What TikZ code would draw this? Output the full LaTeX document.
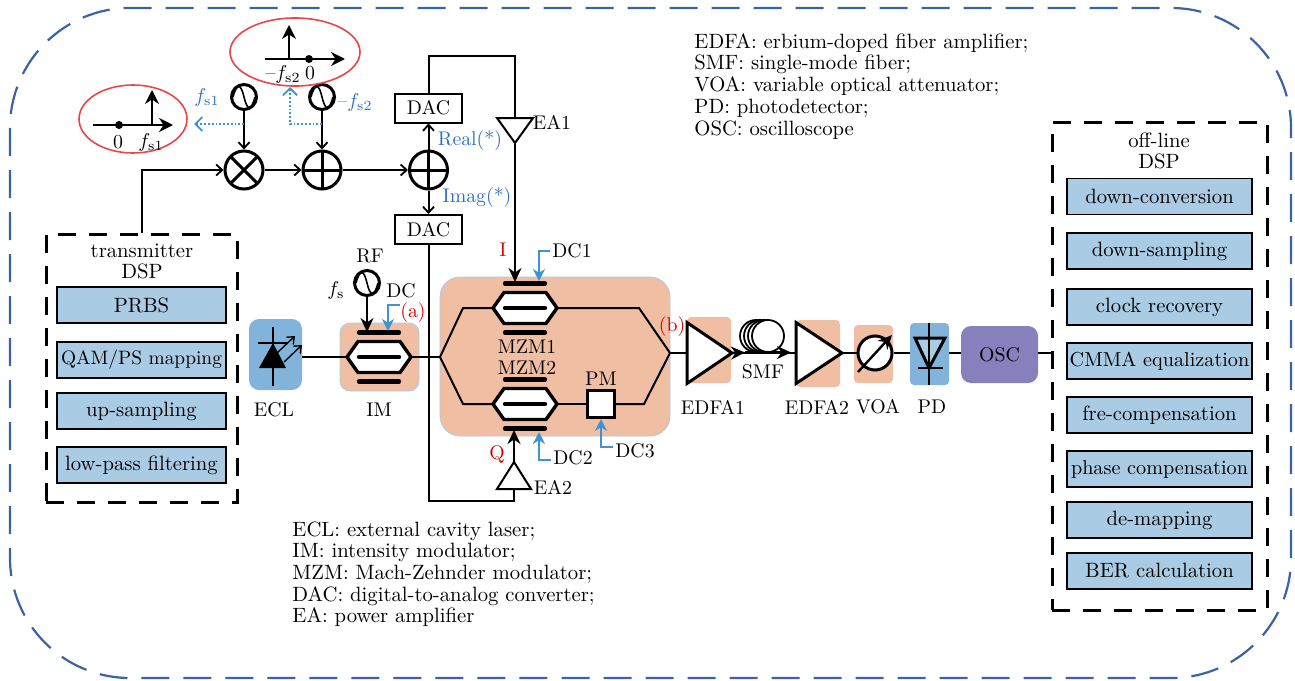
\documentclass[tikz,border=0pt]{standalone}
\usetikzlibrary{positioning, arrows.meta, shapes.geometric}

\definecolor{peachfill}{HTML}{F0BFA3}
\definecolor{skyfill}{HTML}{A9CBE4}
\definecolor{lasefill}{HTML}{82B3DA}
\definecolor{oscfill}{HTML}{8680BD}
\definecolor{ringred}{HTML}{E8474A}
\definecolor{labelblue}{HTML}{2F6FBF}
\definecolor{dcblue}{HTML}{3F93D0}
\definecolor{outerblue}{HTML}{3B62A5}

\begin{document}
\begin{tikzpicture}[
  x=0.5pt, y=-0.5pt,
  font=\fontsize{9.9}{11}\selectfont,
  wire/.style={line width=1pt},
  heavy/.style={line width=1.5pt},
  tip/.style={-{Straight Barb[length=3pt,width=5.5pt,line width=0.9pt]}},
  solidtip/.style={-{Stealth[length=7pt,width=6.5pt]}},
  dcline/.style={line width=1pt, draw=dcblue, -{Stealth[length=6pt,width=6pt]}},
  probe/.style={line width=0.9pt, draw=dcblue, densely dotted, -{Straight Barb[length=3.5pt,width=7pt,line width=0.9pt]}},
  ring/.style={ellipse, draw=ringred, line width=0.8pt, inner sep=0pt},
  axisline/.style={line width=1pt, -{Stealth[length=7pt,width=7pt]}},
  axisdot/.style={circle, fill=black, inner sep=0pt, minimum size=4pt},
  dspframe/.style={draw, line width=1.5pt, dash pattern=on 9pt off 6.5pt, inner sep=0pt},
  dspblock/.style={rectangle, draw, line width=0.9pt, fill=skyfill, inner sep=0pt, font=\fontsize{10.35}{11}\selectfont},
  dacbox/.style={rectangle, draw, line width=1pt, fill=white, inner sep=0pt, minimum width=33.5pt, minimum height=14.5pt},
  panel/.style={rectangle, rounded corners=5pt, inner sep=0pt, outer sep=0pt},
  ampnode/.style={isosceles triangle, isosceles triangle stretches, draw, heavy, fill=white, inner sep=0pt, outer sep=0pt},
  oscnode/.style={circle, draw, heavy, fill=white, minimum size=12.5pt, inner sep=0pt,
    path picture={\draw[line width=0.8pt, shift={(path picture bounding box.center)}] (-11,0)
      .. controls (-7,-15) and (-3,-13) .. (0,0)
      .. controls (3,13) and (7,15) .. (11,0);}},
  mixnode/.style={circle, draw, heavy, fill=white, minimum size=19pt, inner sep=0pt,
    path picture={\draw[heavy] (path picture bounding box.north east) -- (path picture bounding box.south west);
      \draw[heavy] (path picture bounding box.north west) -- (path picture bounding box.south east);}},
  sumnode/.style={circle, draw, heavy, fill=white, minimum size=19pt, inner sep=0pt,
    path picture={\draw[heavy] (path picture bounding box.north) -- (path picture bounding box.south);
      \draw[heavy] (path picture bounding box.west) -- (path picture bounding box.east);}},
  legend/.style={align=left, anchor=north west, inner sep=0pt, font=\fontsize{10.35}{10.85}\selectfont},
  mzmcell/.pic={
    \draw[line width=1.7pt, fill=white] (-32,0) -- (-21,-15.5) -- (21,-15.5) -- (32,0) -- (21,15.5) -- (-21,15.5) -- cycle;
    \draw[line width=2.2pt, line cap=round] (-20,0) -- (20,0);
    \draw[line width=2.2pt, line cap=round] (-20,-24.5) -- (20,-24.5);
    \draw[line width=2.2pt, line cap=round] (-20,24.5) -- (20,24.5);
    \coordinate (-in) at (-32,0);
    \coordinate (-out) at (32,0);
  }
]
\useasboundingbox (0,0) rectangle (1295,680);

% -------------------------
% OUTER FRAME
% -------------------------
\draw[outerblue, line width=1.1pt, dash pattern=on 14pt off 7pt, rounded corners=60pt]
  (10,8) rectangle (1291,678);

% -------------------------
% PANELS (behind the optics)
% -------------------------
\node[panel, fill=lasefill, minimum width=26.5pt, minimum height=35.5pt] (eclpanel) at (275.5,354.5) {};
\node[panel, fill=peachfill, draw=skyfill, minimum width=39.5pt, minimum height=34pt] (impanel) at (379.5,357) {};
\node[panel, fill=peachfill, draw=skyfill, rounded corners=10pt, minimum width=115pt, minimum height=79.5pt] (iqpanel) at (555,356.5) {};
\node[panel, fill=peachfill, rounded corners=2pt, minimum width=22pt, minimum height=33pt] (edfaApanel) at (709,350) {};
\node[panel, fill=peachfill, rounded corners=2pt, minimum width=22pt, minimum height=33.5pt] (edfaBpanel) at (818,353.5) {};
\node[panel, fill=peachfill, rounded corners=2pt, minimum width=19.5pt, minimum height=29pt] (voapanel) at (873.5,354) {};
\node[panel, fill=lasefill, rounded corners=2pt, minimum width=19.5pt, minimum height=31pt] (pdpanel) at (929.5,354) {};

% -------------------------
% DSP BLOCKS
% -------------------------
\node[dspframe, minimum width=95.5pt, minimum height=134pt] (txbox) at (141.5,368) {};
\node[align=center, inner sep=0pt, font=\fontsize{10.35}{10.5}\selectfont] (txtitle) at (142,261) {transmitter\\DSP};
\node[dspblock, minimum width=84.5pt, minimum height=18pt] (prbs) at (141.5,305) {PRBS};
\node[dspblock, minimum width=84.5pt, minimum height=18pt, font=\fontsize{9.7}{11}\selectfont] (qam) at (141.5,360) {QAM/PS mapping};
\node[dspblock, minimum width=84.5pt, minimum height=18pt] (upsamp) at (141.5,411) {up-sampling};
\node[dspblock, minimum width=84.5pt, minimum height=18pt] (lowpass) at (141.5,465) {low-pass filtering};

\node[dspframe, minimum width=107.5pt, minimum height=244pt] (rxbox) at (1159.5,366) {};
\node[align=center, inner sep=0pt, font=\fontsize{10.35}{10.5}\selectfont] (rxtitle) at (1159,151) {off-line\\DSP};
\node[dspblock, minimum width=92.5pt, minimum height=18pt] (downconv) at (1159.5,196.5) {down-conversion};
\node[dspblock, minimum width=92.5pt, minimum height=18pt] (downsamp) at (1159.5,251) {down-sampling};
\node[dspblock, minimum width=92.5pt, minimum height=18pt] (clock) at (1159.5,307) {clock recovery};
\node[dspblock, minimum width=92.5pt, minimum height=18pt, font=\fontsize{10.1}{11}\selectfont] (cmma) at (1159.5,361) {CMMA equalization};
\node[dspblock, minimum width=92.5pt, minimum height=18pt] (frecomp) at (1159.5,415) {fre-compensation};
\node[dspblock, minimum width=92.5pt, minimum height=18pt, font=\fontsize{10.1}{11}\selectfont] (phasecomp) at (1159.5,469) {phase compensation};
\node[dspblock, minimum width=92.5pt, minimum height=18pt] (demap) at (1159.5,520) {de-mapping};
\node[dspblock, minimum width=92.5pt, minimum height=18pt] (ber) at (1159.5,571) {BER calculation};

% -------------------------
% UP-CONVERSION CHAIN
% -------------------------
\node[mixnode] (mix) at (244,170) {};
\node[sumnode] (sumA) at (322,170) {};
\node[sumnode] (sumB) at (428.5,170) {};
\node[oscnode] (oscA) at (244,97) {};
\node[oscnode] (oscB) at (322,97) {};
\node[dacbox] (dacA) at (428.5,108) {DAC};
\node[dacbox] (dacB) at (428.5,229.5) {DAC};

\draw[wire, tip] (txbox.north) |- (mix);
\draw[wire, tip] (mix) -- (sumA);
\draw[wire, tip] (sumA) -- (sumB);
\draw[wire, tip] (oscA) -- (mix);
\draw[wire, tip] (oscB) -- (sumA);
\draw[wire, tip] (sumB) -- (dacA);
\draw[wire, tip] (sumB) -- (dacB);

\node[text=labelblue, inner sep=0pt] (reallab) at (470,141) {Real(*)};
\node[text=labelblue, inner sep=0pt] (imaglab) at (477,198) {Imag(*)};
\node[text=labelblue, inner sep=0pt] (fsAlab) at (207,97) {$f_{\mathrm{s1}}$};
\node[text=labelblue, inner sep=0pt] (fsBlab) at (355,102) {--$f_{\mathrm{s2}}$};

% spectra
\node[ring, minimum width=54pt, minimum height=34pt] (ringA) at (133,119) {};
\node[ring, minimum width=65pt, minimum height=34pt] (ringB) at (295,52) {};
\node[axisdot] (zeroA) at (119,125) {};
\node[axisdot] (zeroB) at (309,59) {};
\coordinate (axisAl) at (93,125);
\coordinate (axisAr) at (173,125);
\coordinate (axisBl) at (265,59);
\coordinate (axisBr) at (345,59);
\draw[axisline] (axisAl) -- (axisAr);
\draw[axisline] (axisBl) -- (axisBr);
\draw[axisline] (152,125) -- (152,90);
\draw[axisline] (289,59) -- (289,25);
\node[inner sep=0pt] (zeroAlab) at (118,142) {0};
\node[inner sep=0pt] (fsAtick) at (151,142) {$f_{\mathrm{s1}}$};
\node[inner sep=0pt] (fsBtick) at (283,74) {--$f_{\mathrm{s2}}$};
\node[inner sep=0pt] (zeroBlab) at (310,73) {0};

% dotted taps
\coordinate (tapA) at (244,124);
\coordinate (tapB) at (322,124);
\coordinate (tapAend) at (194,124);
\coordinate (tapBend) at (290,87);
\draw[probe] (tapA) -- (tapAend);
\draw[probe] (tapB) -| (tapBend);

% -------------------------
% OPTICAL PATH
% -------------------------
% laser
\draw[wire, line width=1.2pt] (273,327) -- (273,386);
\draw[wire, line width=1.2pt] (258,343) -- (288,343);
\fill (273,343) -- (286,368) -- (259,368) -- cycle;
\draw[line width=0.7pt, -{Straight Barb[length=3pt,width=5pt]}] (277,353) -- (295,336);
\draw[line width=0.7pt, -{Straight Barb[length=3pt,width=5pt]}] (284,362) -- (302,345);
\node[inner sep=0pt] (ecllab) at (274,410) {ECL};

% modulators
\pic (im) at (379,357) {mzmcell};
\pic (mzmA) at (525,308) {mzmcell};
\pic (mzmB) at (525,404) {mzmcell};
\node[inner sep=0pt] (imlab) at (379,410) {IM};
\node[inner sep=0pt] (mzmAlab) at (527,347) {MZM1};
\node[inner sep=0pt] (mzmBlab) at (527,368) {MZM2};
\node[rectangle, draw, heavy, fill=white, minimum width=13.5pt, minimum height=13.5pt, inner sep=0pt] (pm) at (601,404) {};
\node[inner sep=0pt] (pmlab) at (601,379) {PM};

\coordinate (split) at (440,357);
\coordinate (splitT) at (463,308);
\coordinate (splitB) at (463,404);
\coordinate (merge) at (670,353);
\coordinate (mergeT) at (639,308);
\coordinate (mergeB) at (644,404);

\draw[wire] (eclpanel.east |- im-in) -- (im-in);
\draw[wire] (im-out) -- (split);
\draw[wire] (split) -- (splitT) -- (mzmA-in);
\draw[wire] (split) -- (splitB) -- (mzmB-in);
\draw[wire] (mzmA-out) -- (mergeT) -- (merge);
\draw[wire] (mzmB-out) -- (pm);
\draw[wire] (pm) -- (mergeB) -- (merge);

% amplifiers and link
\node[ampnode, anchor=apex, minimum width=30.5pt, minimum height=22.5pt] (edfaA) at (732,353) {};
\node[ampnode, anchor=apex, minimum width=30.5pt, minimum height=23pt] (edfaB) at (842,353) {};
\foreach \cx in {756,760,764,768}
  \draw[line width=0.9pt, fill=white] (\cx,336) circle (8pt);
\coordinate (fiberA) at (745,352.5);
\coordinate (fiberB) at (791,352.5);
\draw[wire, line width=1.2pt] (edfaA.apex) -- (edfaB.lower side);
\draw[solidtip, line width=1.2pt] (edfaA.apex) -- (fiberA);
\draw[solidtip, line width=1.2pt] (fiberA) -- (fiberB);
\node[inner sep=0pt] (smflab) at (763,372) {SMF};
\node[circle, draw, heavy, fill=white, minimum size=17pt, inner sep=0pt] (voa) at (875,353) {};
\coordinate (voaS) at (858,372);
\coordinate (voaN) at (892,335);
\draw[line width=1.2pt, solidtip] (voaS) -- (voaN);

% photodiode
\coordinate (pdtop) at (929,323);
\coordinate (pdlow) at (929,385);
\draw[heavy, fill=skyfill] (915,338) -- (945,338) -- (929,368) -- cycle;
\draw[wire, line width=1.2pt] (pdtop) -- (pdlow);
\draw[wire, line width=1.2pt] (918,368) -- (943,368);

\node[panel, fill=oscfill, minimum width=38.5pt, minimum height=28.5pt] (osc) at (999.5,354.5) {OSC};

\draw[wire] (merge) -- (edfaA.lower side |- merge);
\draw[wire] (edfaB.apex) -- (voa);
\draw[wire] (voa) -- (pdpanel.west |- voa);
\draw[wire] (pdpanel.east |- voa) -- (osc.west |- voa);
\draw[wire] (osc.east |- voa) -- (rxbox.west |- voa);

\node[inner sep=0pt] (edfaAlab) at (713,407) {EDFA1};
\node[inner sep=0pt] (edfaBlab) at (817,407) {EDFA2};
\node[inner sep=0pt] (voalab) at (878,407) {VOA};
\node[inner sep=0pt] (pdlab) at (932,407) {PD};

% -------------------------
% DRIVE SIGNALS
% -------------------------
\node[ampnode, wire, anchor=apex, shape border rotate=-90, minimum width=18pt, minimum height=12.5pt] (eaA) at (515,143) {};
\node[ampnode, wire, anchor=apex, shape border rotate=90, minimum width=17pt, minimum height=13.5pt] (eaB) at (514,462) {};
\node[inner sep=0pt] (eaAlab) at (552,122) {EA1};
\node[inner sep=0pt] (eaBlab) at (553,487) {EA2};

\coordinate (dacAup) at (428.5,56);
\coordinate (dacBdown) at (428.5,501);
\coordinate (mzmAdrive) at (515,282);
\coordinate (mzmBdrive) at (514,430);
\draw[wire] (dacA.north) -- (dacAup) -| (eaA.lower side);
\draw[wire] (dacB.south) -- (dacBdown) -| (eaB.lower side);
\draw[wire, solidtip] (eaA.apex) -- (mzmAdrive);
\draw[wire, solidtip] (eaB.apex) -- (mzmBdrive);
\node[text=red!85!black, inner sep=0pt] (ilab) at (503,250) {I};
\node[text=red!85!black, inner sep=0pt] (qlab) at (497,454) {Q};

% RF and DC
\node[oscnode] (rf) at (367,283) {};
\coordinate (imdrive) at (367,332);
\draw[wire, solidtip] (rf) -- (imdrive);
\node[inner sep=0pt] (rflab) at (370,256) {RF};
\node[inner sep=0pt] (fslab) at (336,290) {$f_{\mathrm{s}}$};

\node[inner sep=0pt] (dclab) at (401,291) {DC};
\node[inner sep=0pt] (dcAlab) at (572,251) {DC1};
\node[inner sep=0pt] (dcBlab) at (573,458) {DC2};
\node[inner sep=0pt] (dcClab) at (635,451) {DC3};
\coordinate (imdc) at (388,331);
\coordinate (mzmAdc) at (539,281);
\coordinate (mzmBdc) at (539,432);
\draw[dcline] (400,305) -| (imdc);
\draw[dcline] (dcAlab.west) ++(-2,0) -| (mzmAdc);
\draw[dcline] (dcBlab.west) ++(-2,2) -| (mzmBdc);
\draw[dcline] (dcClab.west) ++(-2,-4) -| (pm.south);
\node[text=red!85!black, inner sep=0pt] (alab) at (413,313) {(a)};
\node[text=red!85!black, inner sep=0pt] (blab) at (672,327) {(b)};

% -------------------------
% ABBREVIATIONS
% -------------------------
\node[legend] (legendA) at (694,33) {EDFA: erbium-doped fiber amplifier;\\SMF: single-mode fiber;\\VOA: variable optical attenuator;\\PD: photodetector;\\OSC: oscilloscope};
\node[legend] (legendB) at (292,521) {ECL: external cavity laser;\\IM: intensity modulator;\\MZM: Mach-Zehnder modulator;\\DAC: digital-to-analog converter;\\EA: power amplifier};

\end{tikzpicture}
\end{document}
